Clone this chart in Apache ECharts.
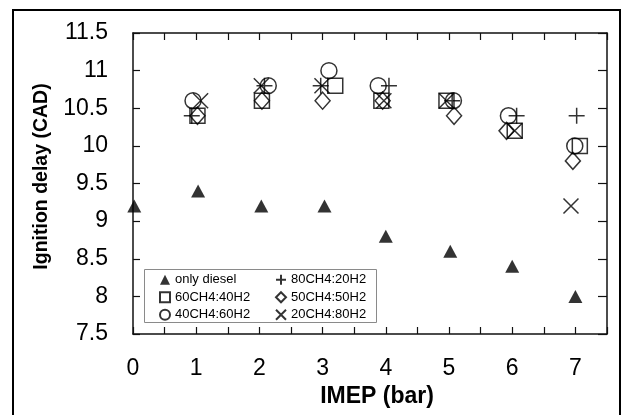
<!DOCTYPE html>
<html>
<head>
<meta charset="utf-8">
<script src="https://cdn.jsdelivr.net/npm/echarts@6/dist/echarts.min.js"></script>
<style>
html,body{margin:0;padding:0;background:#fff;}
#chart{width:625px;height:415px;}
</style>
</head>
<body>
<div id="chart"></div>
<script>
// ---- data ----
const seriesNames = ['only diesel', '80CH4:20H2', '60CH4:40H2', '50CH4:50H2', '40CH4:60H2', '20CH4:80H2'];
const legendOrder = ['only diesel', '60CH4:40H2', '40CH4:60H2', '80CH4:20H2', '50CH4:50H2', '20CH4:80H2'];
const xTickLabels = ['0', '1', '2', '3', '4', '5', '6', '7'];
const yTickLabels = ['7.5', '8', '8.5', '9', '9.5', '10', '10.5', '11', '11.5'];

const dieselX = [0.02, 1.03, 2.03, 3.03, 4.0, 5.02, 6.0, 7.0];
const dieselY = [9.2, 9.4, 9.2, 9.2, 8.8, 8.6, 8.4, 8.0];

const h20X = [0.93, 2.08, 2.97, 4.05, 5.05, 6.07, 7.02];
const h20Y = [10.4, 10.8, 10.8, 10.8, 10.6, 10.4, 10.4];

const h40X = [1.02, 2.04, 3.2, 3.93, 4.96, 6.04, 7.07];
const h40Y = [10.4, 10.6, 10.8, 10.6, 10.6, 10.2, 10.0];

const h50X = [1.02, 2.04, 3.0, 3.95, 5.08, 5.91, 6.96];
const h50Y = [10.4, 10.6, 10.6, 10.6, 10.4, 10.2, 9.8];

const h60X = [0.95, 2.14, 3.1, 3.88, 5.07, 5.94, 6.99];
const h60Y = [10.6, 10.8, 11.0, 10.8, 10.6, 10.4, 10.0];

const h80X = [1.07, 2.03, 2.99, 3.97, 4.96, 6.04, 6.93];
const h80Y = [10.6, 10.8, 10.8, 10.6, 10.6, 10.2, 9.2];

// ---- build ----
const zip = (xs, ys) => xs.map((x, i) => [x, ys[i]]);
const FONT = "'Liberation Sans', 'DejaVu Sans', sans-serif";
const plusPath = 'path://M0,5L10,5M5,0L5,10';
const crossPath = 'path://M0,0L10,10M10,0L0,10';
const hollow = { color: 'rgba(0,0,0,0)', borderColor: '#000', borderWidth: 1.5 };

function scatter(name, data, symbol, size, style) {
  return {
    name: name, type: 'scatter', data: data, symbol: symbol, symbolSize: size,
    itemStyle: style, emphasis: { disabled: true }, silent: true, z: 3
  };
}

const chart = echarts.init(document.getElementById('chart'), null, { renderer: 'canvas' });

const axisBase = {
  type: 'value',
  axisLine: { show: true, onZero: false, lineStyle: { color: '#111', width: 1.5 } },
  axisTick: { show: true, inside: true, length: 7, lineStyle: { color: '#111', width: 1.2 } },
  splitLine: { show: false }
};

chart.setOption({
  animation: false,
  backgroundColor: '#fff',
  grid: { left: 133, right: 18, top: 33, bottom: 81 },
  xAxis: [
    Object.assign({}, axisBase, {
      position: 'bottom', min: 0, max: 7.5, interval: 0.5,
      name: 'IMEP (bar)', nameLocation: 'middle', nameGap: 44,
      nameTextStyle: { fontFamily: FONT, fontWeight: 'bold', fontSize: 23, color: '#000', padding: [0, 0, 0, 14] },
      axisLabel: {
        margin: 23, fontFamily: FONT, fontSize: 23, color: '#000',
        formatter: v => (Number.isInteger(v) && v >= 0 && v < xTickLabels.length) ? xTickLabels[v] : ''
      }
    }),
    Object.assign({}, axisBase, {
      position: 'top', min: 0, max: 7.5, interval: 0.5, axisLabel: { show: false }
    })
  ],
  yAxis: [
    Object.assign({}, axisBase, {
      position: 'left', min: 7.5, max: 11.5, interval: 0.5,
      name: 'Ignition delay (CAD)', nameLocation: 'middle', nameGap: 81, nameRotate: 90,
      nameTextStyle: { fontFamily: FONT, fontWeight: 'bold', fontSize: 19.5, color: '#000', padding: [0, 0, 0, 14] },
      axisLabel: {
        margin: 25, fontFamily: FONT, fontSize: 23, color: '#000',
        formatter: v => { const i = Math.round((v - 7.5) / 0.5); return yTickLabels[i] !== undefined ? yTickLabels[i] : ''; }
      }
    }),
    Object.assign({}, axisBase, {
      position: 'right', min: 7.5, max: 11.5, interval: 0.5, axisLabel: { show: false },
      axisTick: { show: true, inside: true, length: 9, lineStyle: { color: '#111', width: 1.2 } }
    })
  ],
  legend: {
    orient: 'vertical', left: 159, top: 271, height: 56,
    padding: 0, itemGap: 0, itemWidth: 10, itemHeight: 10,
    data: legendOrder,
    textStyle: { fontFamily: FONT, fontSize: 13, color: '#000', width: 100, lineHeight: 17.5 },
    selectedMode: false
  },
  graphic: [
    { type: 'rect', shape: { x: 144.5, y: 269.5, width: 232, height: 53 },
      style: { fill: 'rgba(0,0,0,0)', stroke: '#8a8a8a', lineWidth: 1 }, z: 10, silent: true },
    { type: 'rect', shape: { x: 13, y: 10, width: 607, height: 420 },
      style: { fill: 'rgba(0,0,0,0)', stroke: '#000', lineWidth: 2 }, z: 10, silent: true }
  ],
  series: [
    scatter(seriesNames[0], zip(dieselX, dieselY), 'triangle', [14, 13], { color: '#000' }),
    scatter(seriesNames[1], zip(h20X, h20Y), plusPath, 16, hollow),
    scatter(seriesNames[2], zip(h40X, h40Y), 'rect', 15, hollow),
    scatter(seriesNames[3], zip(h50X, h50Y), 'diamond', [15, 17], hollow),
    scatter(seriesNames[4], zip(h60X, h60Y), 'circle', 16, hollow),
    scatter(seriesNames[5], zip(h80X, h80Y), crossPath, 15, hollow)
  ]
});
</script>
</body>
</html>
